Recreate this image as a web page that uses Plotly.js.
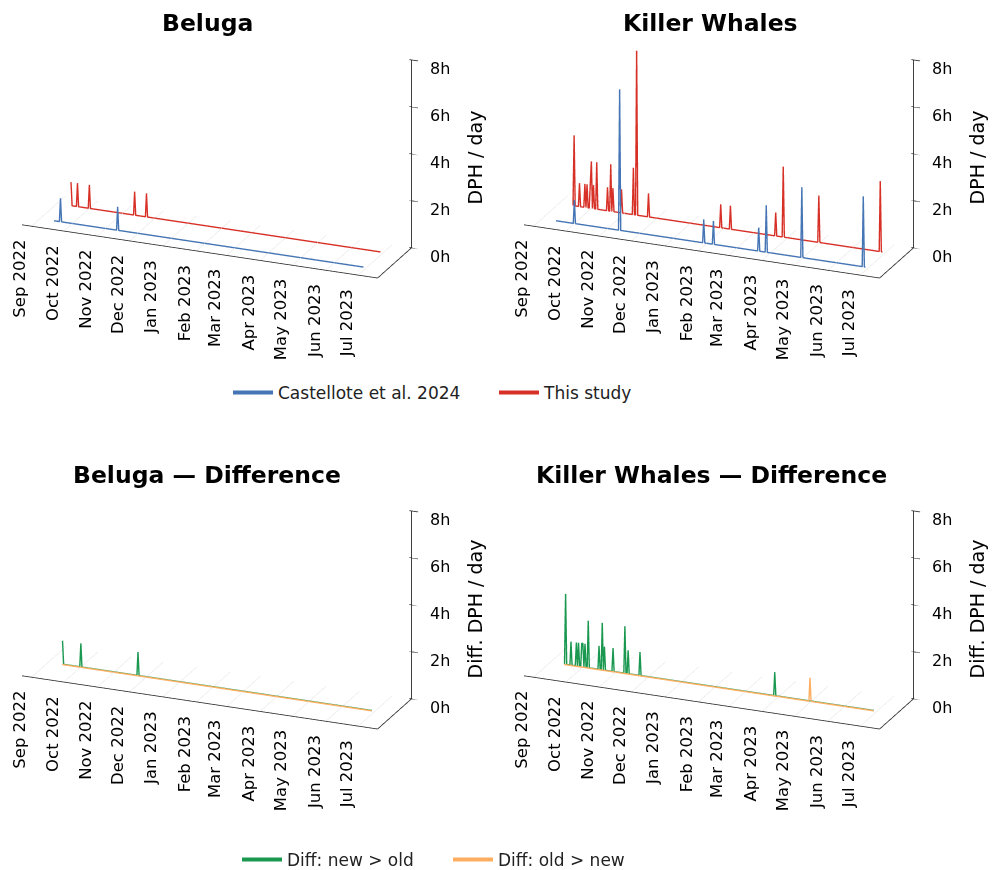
<!DOCTYPE html>
<html>
<head>
<meta charset="utf-8">
<script src="https://cdn.plot.ly/plotly-3.0.1.min.js"></script>
<style>html,body{margin:0;padding:0;background:#fff;overflow:hidden;}#chart{width:995px;height:870px;}</style>
</head>
<body>
<div id="chart"></div>
<script>
// ---- data ----
const startDate = '2022-09-14';
const endDate = '2023-06-28';
const xMin = '2022-08-23', xMax = '2023-07-19';   // axis frame
const xRangeGL = ['2022-08-23', '2023-07-27'];   // room for z tick marks
const yRange = [-0.5, 1.5];
const zRange = [0, 8];

const monthTickDates = ['2022-09-01','2022-10-01','2022-11-01','2022-12-01','2023-01-01','2023-02-01','2023-03-01','2023-04-01','2023-05-01','2023-06-01','2023-07-01'];
const monthTickLabels = ['Sep 2022','Oct 2022','Nov 2022','Dec 2022','Jan 2023','Feb 2023','Mar 2023','Apr 2023','May 2023','Jun 2023','Jul 2023'];
const hourTicks = [0, 2, 4, 6, 8];
const hourLabels = ['0h', '2h', '4h', '6h', '8h'];

// Beluga
const belugaOldDates = ['2022-09-20', '2022-11-12'];
const belugaOldHours = [1, 1];
const belugaNewDates = ['2022-09-14', '2022-09-20', '2022-10-01', '2022-11-12', '2022-11-23'];
const belugaNewHours = [1, 1, 1, 1, 1];

// Killer whales
const kwOldDates = ['2022-10-01', '2022-11-12', '2023-01-29', '2023-02-07', '2023-03-21', '2023-03-28', '2023-04-30', '2023-06-26'];
const kwOldHours = [1, 6, 1, 1, 1, 2, 3, 3];
const kwNewDates = ['2022-09-15', '2022-09-20', '2022-09-25', '2022-09-27', '2022-09-30', '2022-10-01', '2022-10-03', '2022-10-06',
  '2022-10-16', '2022-10-19', '2022-10-21', '2022-10-29', '2022-11-09', '2022-11-12', '2022-11-23',
  '2023-01-29', '2023-02-07', '2023-03-21', '2023-03-28', '2023-04-30', '2023-06-26'];
const kwNewHours = [3, 1, 1, 1, 1, 2, 1, 2, 1, 2, 1, 1, 2, 7, 1, 1, 1, 1, 3, 2, 3];

const seriesNames = ['Castellote et al. 2024', 'This study', 'Diff: new > old', 'Diff: old > new'];
const colors = ['#4575b4', '#d73027', '#1a9850', '#fdae61'];

// ---- build daily series ----
function shiftDate(s, n) { return new Date(new Date(s + 'T00:00:00Z').getTime() + n * 86400000).toISOString().slice(0, 10); }
function dayList(a, b) {
  const out = []; let d = a;
  while (d <= b) { out.push(d); d = shiftDate(d, 1); }
  return out;
}
const days = dayList(startDate, endDate);
function daily(dates, hours) {
  const m = {}; dates.forEach((d, i) => m[d] = hours[i]);
  return days.map(d => m[d] || 0);
}
const bOld = daily(belugaOldDates, belugaOldHours), bNew = daily(belugaNewDates, belugaNewHours);
const kOld = daily(kwOldDates, kwOldHours), kNew = daily(kwNewDates, kwNewHours);
const pos = (a, b) => a.map((v, i) => Math.max(v - b[i], 0));

const font = 'DejaVu Sans, Verdana, sans-serif';
function line3d(scene, z, yv, color) {
  return { type: 'scatter3d', mode: 'lines', scene: scene, x: days, y: days.map(() => yv), z: z,
    line: { color: color, width: 2.8 }, showlegend: false, hoverinfo: 'skip' };
}
// axis frame, z tick marks and floor grid, built from the ranges and tick arrays
function decor(scene) {
  const gx = [], gy = [], gz = [];
  monthTickDates.forEach(d => { gx.push(d, d, null); gy.push(yRange[0], yRange[1], null); gz.push(0, 0, null); });
  const tx = [], ty = [], tz = [];
  hourTicks.forEach(h => { tx.push(shiftDate(xMax, -2), shiftDate(xMax, 6), null); ty.push(yRange[1], yRange[1], null); tz.push(h, h, null); });
  return [
    { type: 'scatter3d', mode: 'lines', scene: scene, x: gx, y: gy, z: gz, line: { color: '#e4e4e4', width: 1 }, showlegend: false, hoverinfo: 'skip' },
    { type: 'scatter3d', mode: 'lines', scene: scene, x: [xMin, xMax, xMax, xMax], y: [yRange[0], yRange[0], yRange[1], yRange[1]],
      z: [zRange[0], zRange[0], zRange[0], zRange[1]], line: { color: '#262626', width: 1.6 }, showlegend: false, hoverinfo: 'skip' },
    { type: 'scatter3d', mode: 'lines', scene: scene, x: tx, y: ty, z: tz, line: { color: '#262626', width: 1.6 }, showlegend: false, hoverinfo: 'skip' }
  ];
}
const traces = [].concat(
  decor('scene'), decor('scene2'), decor('scene3'), decor('scene4'),
  [line3d('scene', bOld, 0, colors[0]), line3d('scene', bNew, 1, colors[1]),
   line3d('scene2', kOld, 0, colors[0]), line3d('scene2', kNew, 1, colors[1]),
   line3d('scene3', pos(bNew, bOld), 0.5, colors[2]), line3d('scene3', pos(bOld, bNew), 0.48, colors[3]),
   line3d('scene4', pos(kNew, kOld), 0.5, colors[2]), line3d('scene4', pos(kOld, kNew), 0.48, colors[3])]
);
// legend entries
seriesNames.forEach((n, i) => traces.push({ type: 'scatter', mode: 'lines', x: [null], y: [null], name: n,
  line: { color: colors[i], width: 4 }, legend: i < 2 ? 'legend' : 'legend2', xaxis: 'x', yaxis: 'y', hoverinfo: 'skip' }));

function sceneAnnotations(ztitle) {
  const a = [];
  monthTickDates.forEach((d, i) => a.push({ x: d, y: yRange[0], z: 0, text: monthTickLabels[i], showarrow: false, textangle: -90,
    xanchor: 'center', yanchor: 'top', xshift: -12, yshift: -12, font: { family: font, size: 16.5, color: '#000' } }));
  hourTicks.forEach((h, i) => a.push({ x: xMax, y: yRange[1], z: h, text: hourLabels[i], showarrow: false,
    xanchor: 'left', yanchor: 'middle', xshift: 16, yshift: -9, font: { family: font, size: 16, color: '#000' } }));
  a.push({ x: xMax, y: yRange[1], z: 4, text: ztitle, showarrow: false, textangle: -90, xanchor: 'center', yanchor: 'middle',
    xshift: 63, yshift: -4, font: { family: font, size: 19, color: '#000' } });
  return a;
}
function scene(dx, dy, ztitle) {
  const ax = { visible: false, showspikes: false };
  return {
    domain: { x: dx, y: dy },
    xaxis: Object.assign({}, ax, { type: 'date', range: xRangeGL }),
    yaxis: Object.assign({}, ax, { range: yRange }),
    zaxis: Object.assign({}, ax, { range: zRange }),
    aspectmode: 'manual',
    aspectratio: { x: 2.813, y: 0.64, z: 1.441 },
    camera: { eye: { x: 0.706, y: -1.722, z: 0.73 }, up: { x: 0, y: 0, z: 1 }, center: { x: 0, y: 0, z: 0 },
      projection: { type: 'orthographic' } },
    annotations: sceneAnnotations(ztitle)
  };
}
const W = 995, H = 870;
function dom(cx, cy, w, h) {
  return [[(cx - w / 2) / W, (cx + w / 2) / W], [1 - (cy + h / 2) / H, 1 - (cy - h / 2) / H]];
}
const d1 = dom(221, 143, 430, 280), d2 = dom(723, 143, 430, 280), d3 = dom(221, 594, 430, 280), d4 = dom(723, 594, 430, 280);

function title(t, x, y) {
  return { text: '<b>' + t + '</b>', x: x / W, y: 1 - y / H, xref: 'paper', yref: 'paper', showarrow: false,
    xanchor: 'center', yanchor: 'middle', font: { family: font, size: 23.5, color: '#000' } };
}
const layout = {
  width: W, height: H, margin: { l: 0, r: 0, t: 0, b: 0, autoexpand: false },
  paper_bgcolor: '#fff', plot_bgcolor: 'rgba(0,0,0,0)',
  font: { family: font, color: '#000' },
  scene: scene(d1[0], d1[1], 'DPH / day'),
  scene2: scene(d2[0], d2[1], 'DPH / day'),
  scene3: scene(d3[0], d3[1], 'Diff. DPH / day'),
  scene4: scene(d4[0], d4[1], 'Diff. DPH / day'),
  xaxis: { visible: false, domain: [0, 0.01] }, yaxis: { visible: false, domain: [0, 0.01] },
  legend: { orientation: 'h', xref: 'container', yref: 'container', x: 228 / W, y: 1 - 393 / H, xanchor: 'left', yanchor: 'middle',
    font: { family: font, size: 17, color: '#222' }, itemwidth: 40, entrywidthmode: 'pixels', entrywidth: 211 },
  legend2: { orientation: 'h', xref: 'container', yref: 'container', x: 237 / W, y: 1 - 860 / H, xanchor: 'left', yanchor: 'middle',
    font: { family: font, size: 17, color: '#222' }, itemwidth: 40, entrywidthmode: 'pixels', entrywidth: 156 },
  annotations: [title('Beluga', 207, 23), title('Killer Whales', 710, 23), title('Beluga — Difference', 207, 475), title('Killer Whales — Difference', 711, 475)]
};
Plotly.newPlot('chart', traces, layout, { displayModeBar: false });
</script>
</body>
</html>
